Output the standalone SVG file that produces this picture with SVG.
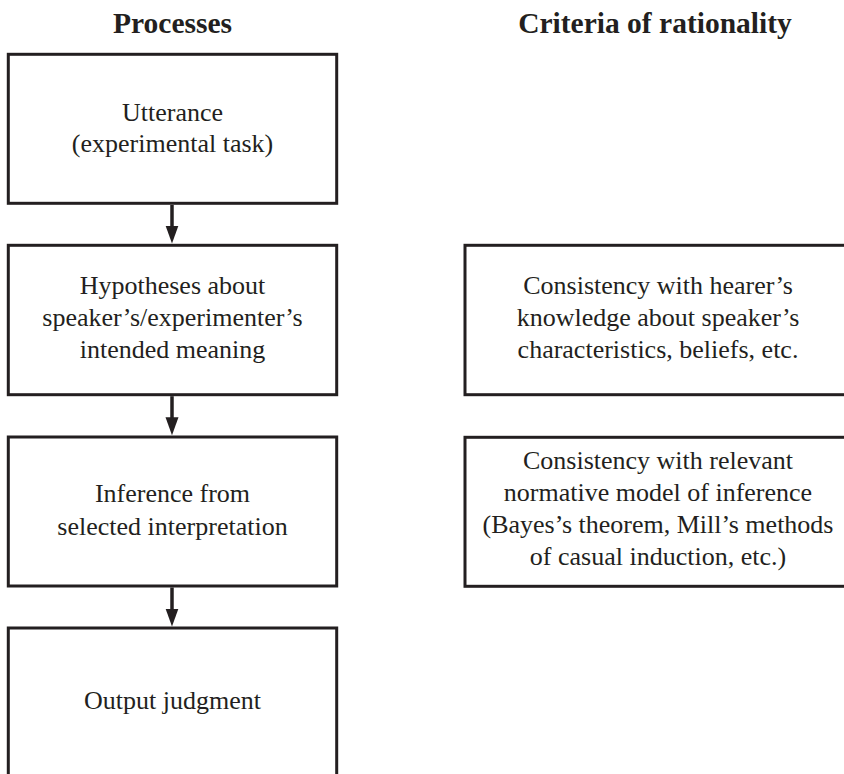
<svg xmlns="http://www.w3.org/2000/svg" width="844" height="774" viewBox="0 0 844 774">
  <style>
    .box { fill: #ffffff; stroke: #231f20; stroke-width: 3; }
    .label { font-family: "Liberation Serif", "Times New Roman", serif; font-size: 26px; fill: #231f20; text-anchor: middle; }
    .head { font-family: "Liberation Serif", "Times New Roman", serif; font-size: 29.5px; font-weight: bold; fill: #231f20; text-anchor: middle; }
    .link { stroke: #231f20; stroke-width: 3.5; fill: none; }
  </style>
  <defs>
    <!-- arrowhead; the tip sits 10px past the end of the line -->
    <marker id="arrow" markerUnits="userSpaceOnUse" markerWidth="18" markerHeight="14" refX="8" refY="7" orient="auto" viewBox="0 0 18 14">
      <path d="M0,0.5 L18,7 L0,13.5 Z" fill="#231f20"/>
    </marker>
  </defs>
  <rect width="844" height="774" fill="#ffffff"/>

  <!-- column headings -->
  <g id="heading-processes">
    <text class="head" x="172.5" y="33">Processes</text>
  </g>
  <g id="heading-criteria">
    <text class="head" x="655" y="33">Criteria of rationality</text>
  </g>

  <!-- process column -->
  <g id="utterance">
    <rect class="box" x="8.3" y="54.3" width="328.4" height="149"/>
    <text class="label" x="172.5" y="121">Utterance</text>
    <text class="label" x="172.5" y="152">(experimental task)</text>
  </g>
  <g id="hypotheses">
    <rect class="box" x="8.3" y="245.3" width="328.4" height="149.4"/>
    <text class="label" x="172.5" y="294">Hypotheses about</text>
    <text class="label" x="172.5" y="326">speaker’s/experimenter’s</text>
    <text class="label" x="172.5" y="358">intended meaning</text>
  </g>
  <g id="inference">
    <rect class="box" x="8.3" y="437" width="328.4" height="149"/>
    <text class="label" x="172.5" y="502">Inference from</text>
    <text class="label" x="172.5" y="535">selected interpretation</text>
  </g>
  <g id="output">
    <rect class="box" x="8.3" y="628" width="328.4" height="170"/>
    <text class="label" x="172.5" y="709">Output judgment</text>
  </g>

  <!-- criteria column -->
  <g id="criterion-knowledge">
    <rect class="box" x="465" y="245.3" width="388" height="149.4"/>
    <text class="label" x="658" y="294">Consistency with hearer’s</text>
    <text class="label" x="658" y="326">knowledge about speaker’s</text>
    <text class="label" x="658" y="358">characteristics, beliefs, etc.</text>
  </g>
  <g id="criterion-normative">
    <rect class="box" x="465" y="437.3" width="388" height="149"/>
    <text class="label" x="658" y="469">Consistency with relevant</text>
    <text class="label" x="658" y="501">normative model of inference</text>
    <text class="label" x="658" y="533">(Bayes’s theorem, Mill’s methods</text>
    <text class="label" x="658" y="565">of casual induction, etc.)</text>
  </g>

  <!-- connectors -->
  <g id="connectors">
    <line class="link" x1="172" y1="205" x2="172" y2="233.5" marker-end="url(#arrow)"/>
    <line class="link" x1="172" y1="396.2" x2="172" y2="425.3" marker-end="url(#arrow)"/>
    <line class="link" x1="172" y1="587.5" x2="172" y2="616.5" marker-end="url(#arrow)"/>
  </g>
</svg>
